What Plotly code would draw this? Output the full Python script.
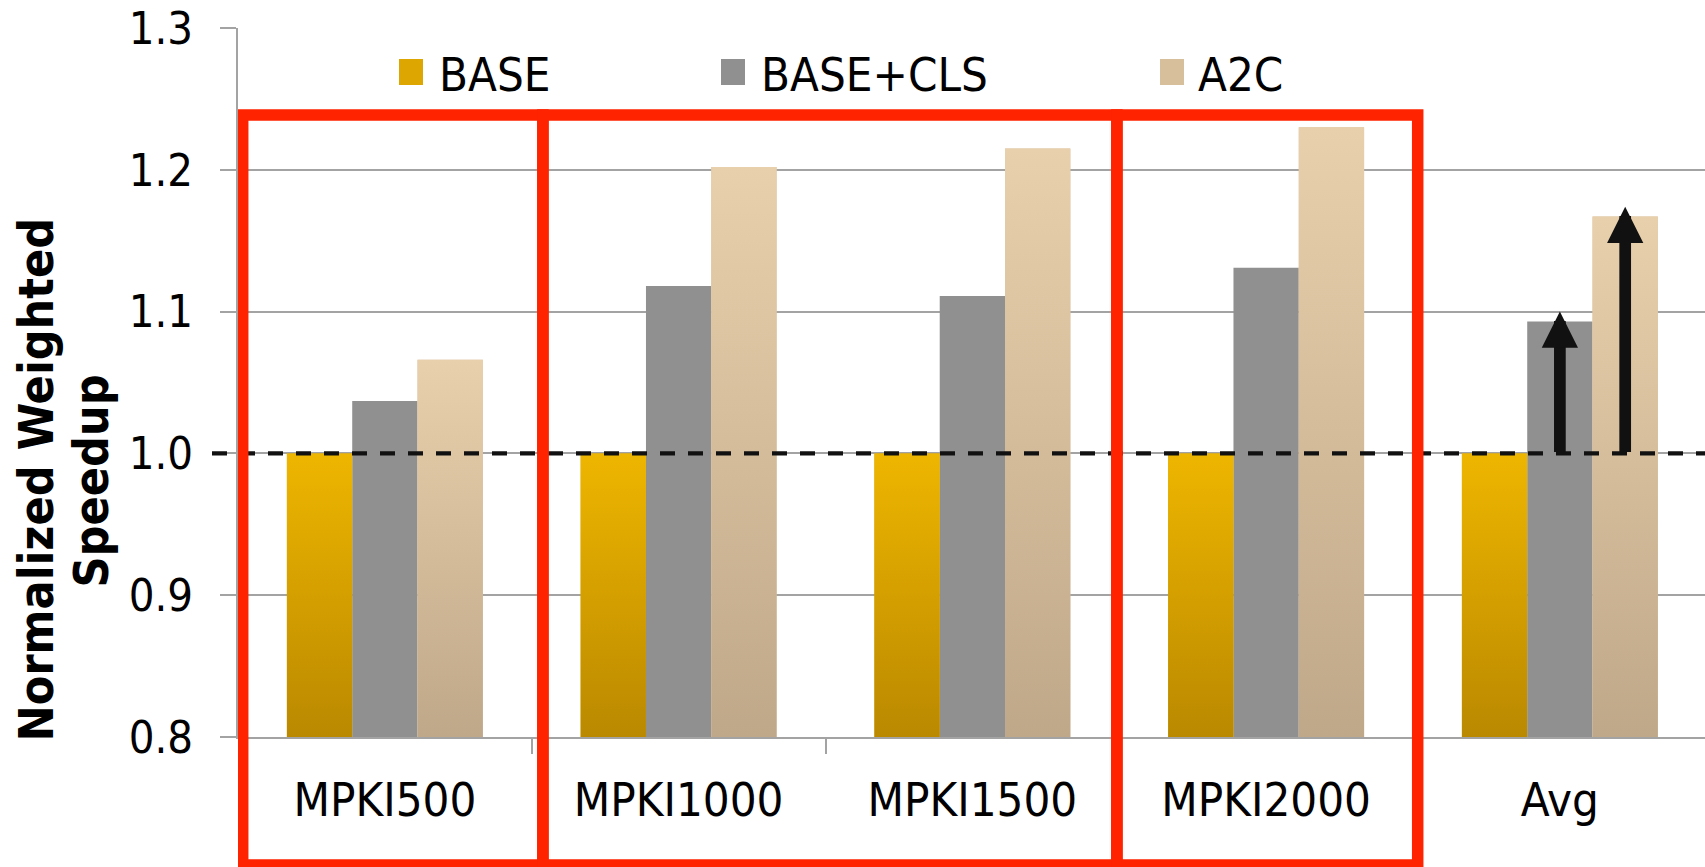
import plotly.graph_objects as go

# ---- data ----
categories = ["MPKI500", "MPKI1000", "MPKI1500", "MPKI2000", "Avg"]
series_names = ["BASE", "BASE+CLS", "A2C"]
base = [1.0, 1.0, 1.0, 1.0, 1.0]
base_cls = [1.037, 1.118, 1.111, 1.131, 1.093]
a2c = [1.066, 1.202, 1.215, 1.230, 1.167]
y_ticks = [0.8, 0.9, 1.0, 1.1, 1.2, 1.3]

# ---- styling ----
FONT = "DejaVu Sans Condensed, DejaVu Sans, sans-serif"
GRID = "#A3A3A3"
RED = "#FF2300"
solid_colors = ["#D9A300", "#909090", "#D8C09E"]
gradients = [
    [[0.0, "#BA8900"], [1.0, "#EEB600"]],
    None,
    [[0.0, "#BFA889"], [1.0, "#E9D0AC"]],
]

W, H = 1705, 867
ML, MR, MT, MB = 238, 0, 28, 130
PW, PH = W - ML - MR, H - MT - MB
Y0 = 0.8
BARGAP = 0.333
bw = (1 - BARGAP) / 3
xs = list(range(len(categories)))


def px(X):
    return (X - ML) / PW


def py(Y):
    return (H - MB - Y) / PH


fig = go.Figure()
values = [base, base_cls, a2c]
for k, (name, vals) in enumerate(zip(series_names, values)):
    fig.add_trace(go.Bar(
        x=xs, y=vals, name=name, showlegend=False,
        marker=dict(color=solid_colors[k], line=dict(width=0)),
        hoverinfo="skip",
    ))

# vertical colour gradient over the gold and tan bars
for k, vals in enumerate(values):
    if gradients[k] is None:
        continue
    off = (k - 1) * bw
    for i, v in zip(xs, vals):
        xl, xr = i + off - bw / 2, i + off + bw / 2
        fig.add_trace(go.Scatter(
            x=[xl, xr, xr, xl, xl], y=[Y0, Y0, v, v, Y0],
            mode="lines", line=dict(width=0), fill="toself",
            fillgradient=dict(type="vertical", colorscale=gradients[k]),
            showlegend=False, hoverinfo="skip",
        ))

shapes = []
# reference line at 1.0
shapes.append(dict(type="line", xref="paper", yref="y", x0=px(212), x1=1,
                   y0=1.0, y1=1.0, line=dict(color="#111111", width=4.3, dash="15px,13px")))

# highlight boxes around category groups
box_edges = [(-0.484, 0.538), (0.538, 2.492), (2.492, 3.516)]
for a, b in box_edges:
    shapes.append(dict(type="rect", xref="x", yref="paper", x0=a, x1=b,
                       y0=py(865), y1=py(115), line=dict(color=RED, width=11.5),
                       fillcolor="rgba(0,0,0,0)", layer="above"))

# legend swatches
legend_swatch_x = [399, 721, 1160]
legend_text_x = [437, 759, 1196]
legend_fill = ["#DDA600", "#909090", "#D8BF9C"]
for sx, col in zip(legend_swatch_x, legend_fill):
    shapes.append(dict(type="rect", xref="paper", yref="paper",
                       x0=px(sx), x1=px(sx + 24), y0=py(85), y1=py(59),
                       line=dict(width=0), fillcolor=col))

annotations = []
for tx, name in zip(legend_text_x, series_names):
    annotations.append(dict(xref="paper", yref="paper", x=px(tx), y=py(74),
                            xanchor="left", yanchor="middle", text=name,
                            showarrow=False, font=dict(family=FONT, size=47, color="#000")))

# y-axis title in two rotated lines
annotations.append(dict(xref="paper", yref="paper", x=px(35.5), y=py(480),
                        xanchor="center", yanchor="middle", textangle=-90,
                        text="<b>Normalized Weighted</b>", showarrow=False,
                        font=dict(family=FONT, size=48, color="#000")))
annotations.append(dict(xref="paper", yref="paper", x=px(90.5), y=py(481),
                        xanchor="center", yanchor="middle", textangle=-90,
                        text="<b>Speedup</b>", showarrow=False,
                        font=dict(family=FONT, size=48, color="#000")))

# improvement arrows on the average group
avg = len(categories) - 1
for k, vals in ((1, base_cls), (2, a2c)):
    xa = avg + (k - 1) * bw
    annotations.append(dict(x=xa, y=vals[avg] + 0.007, ax=xa, ay=1.0,
                            xref="x", yref="y", axref="x", ayref="y",
                            text="", showarrow=True, arrowhead=2, arrowsize=0.62,
                            arrowwidth=11.7, arrowcolor="#111111"))

fig.update_layout(
    width=W, height=H,
    margin=dict(l=ML, r=MR, t=MT, b=MB, pad=0),
    paper_bgcolor="white", plot_bgcolor="white",
    barmode="group", bargap=BARGAP, bargroupgap=0,
    showlegend=False,
    shapes=shapes, annotations=annotations,
    font=dict(family=FONT, size=46, color="#000"),
    xaxis=dict(
        range=[-0.5, -0.5 + PW / 293.75],
        tickmode="array", tickvals=xs, ticktext=categories,
        ticks="", showgrid=False, zeroline=False,
        showline=True, linecolor=GRID, linewidth=2,
        tickfont=dict(family=FONT, size=47, color="#000"),
        ticklabelstandoff=21,
        minor=dict(tickvals=[i + 0.5 for i in xs[:-1]], ticks="outside",
                   ticklen=15, tickwidth=2, tickcolor=GRID, showgrid=False),
        fixedrange=True,
    ),
    yaxis=dict(
        range=[y_ticks[0], y_ticks[-1]],
        tickmode="array", tickvals=y_ticks, tickformat=".1f",
        showgrid=True, gridcolor=GRID, gridwidth=2,
        zeroline=False, showline=True, linecolor=GRID, linewidth=2,
        ticks="outside", ticklen=16, tickwidth=2, tickcolor=GRID,
        tickfont=dict(family=FONT, size=45, color="#000"),
        ticklabelstandoff=18,
        fixedrange=True,
    ),
)

fig.write_html("out.html", config={"displayModeBar": False})
